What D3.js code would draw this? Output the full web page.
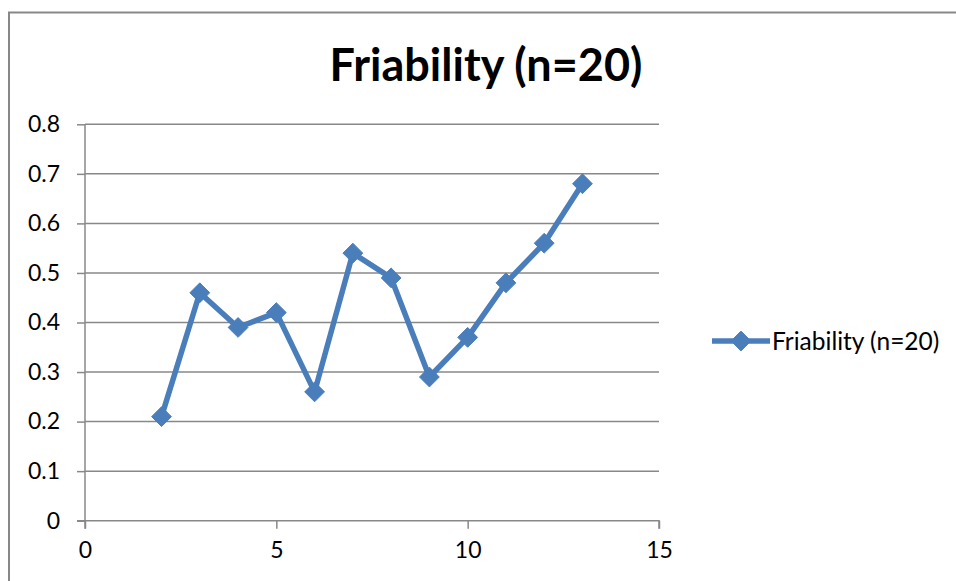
<!DOCTYPE html>
<html>
<head>
<meta charset="utf-8">
<script src="https://cdn.jsdelivr.net/npm/d3@7"></script>
<style>
  html, body { margin: 0; padding: 0; background: #fff; }
  svg { display: block; font-family: Lato, "Open Sans", sans-serif; }
</style>
</head>
<body>
<svg id="chart" width="956" height="581"></svg>
<script>
// Friability measurements per batch
const seriesName = "Friability (n=20)";
const batchNumbers = [2, 3, 4, 5, 6, 7, 8, 9, 10, 11, 12, 13];
const friabilityValues = [0.21, 0.46, 0.39, 0.42, 0.26, 0.54, 0.49, 0.29, 0.37, 0.48, 0.56, 0.68];
const xTicks = [0, 5, 10, 15];
const yTicks = [0, 0.1, 0.2, 0.3, 0.4, 0.5, 0.6, 0.7, 0.8];

const svg = d3.select("#chart");
const W = 956, H = 581;
const plot = { left: 85, right: 659, top: 124.3, bottom: 520.7 };
const blue = "#4a7ebb";
const gray = "#888888";
const font = "Lato, 'Open Sans', sans-serif";

// Outer frame (top and left edges visible)
svg.append("path")
  .attr("d", `M9,${H} L9,12.5 L${W},12.5`)
  .attr("fill", "none")
  .attr("stroke", gray)
  .attr("stroke-width", 2);

const x = d3.scaleLinear().domain([0, 15]).range([plot.left, plot.right]);
const y = d3.scaleLinear().domain([0, 0.8]).range([plot.bottom, plot.top]);

// Horizontal gridlines
svg.append("g")
  .selectAll("line")
  .data(yTicks.filter(d => d > 0))
  .join("line")
  .attr("x1", plot.left).attr("x2", plot.right)
  .attr("y1", d => y(d)).attr("y2", d => y(d))
  .attr("stroke", gray).attr("stroke-width", 1.5);

// Y axis
const yAxis = svg.append("g")
  .attr("transform", `translate(${plot.left},0)`)
  .call(d3.axisLeft(y).tickValues(yTicks).tickSize(8).tickPadding(17)
    .tickFormat(d => d === 0 ? "0" : d3.format(".1f")(d)));
yAxis.select(".domain").attr("stroke", gray).attr("stroke-width", 1.5)
  .attr("d", `M0,${plot.top}V${plot.bottom + 8}`);
yAxis.selectAll(".tick line").attr("stroke", gray).attr("stroke-width", 1.5);
yAxis.selectAll(".tick text").attr("fill", "#000").style("font-size", "23px")
  .style("font-family", font);

// X axis
const xAxis = svg.append("g")
  .attr("transform", `translate(0,${plot.bottom})`)
  .call(d3.axisBottom(x).tickValues(xTicks).tickSize(8).tickPadding(13));
xAxis.select(".domain").attr("stroke", gray).attr("stroke-width", 1.5)
  .attr("d", `M${plot.left - 8},0H${plot.right}V8`);
xAxis.selectAll(".tick line").attr("stroke", gray).attr("stroke-width", 1.5);
xAxis.selectAll(".tick text").attr("fill", "#000").style("font-size", "23px")
  .style("font-family", font);

// Series line
const data = batchNumbers.map((b, i) => ({ x: b, y: friabilityValues[i] }));
svg.append("path")
  .datum(data)
  .attr("fill", "none")
  .attr("stroke", blue)
  .attr("stroke-width", 5.5)
  .attr("stroke-linejoin", "round")
  .attr("d", d3.line().x(d => x(d.x)).y(d => y(d.y)));

// Diamond markers
const diamond = d3.symbol().type(d3.symbolDiamond2).size(250);
svg.append("g")
  .selectAll("path")
  .data(data)
  .join("path")
  .attr("transform", d => `translate(${x(d.x)},${y(d.y)})`)
  .attr("d", diamond)
  .attr("fill", blue)
  .attr("stroke", blue)
  .attr("stroke-width", 1);

// Title
svg.append("text")
  .attr("x", 486).attr("y", 81)
  .attr("text-anchor", "middle")
  .style("font-size", "45px")
  .style("font-weight", "bold")
  .attr("fill", "#000")
  .text(seriesName);

// Legend
const lg = svg.append("g").attr("transform", "translate(712,341)");
lg.append("line").attr("x1", 0).attr("x2", 58).attr("y1", 0).attr("y2", 0)
  .attr("stroke", blue).attr("stroke-width", 5.5);
lg.append("path").attr("transform", "translate(29,0)").attr("d", diamond)
  .attr("fill", blue).attr("stroke", blue);
lg.append("text").attr("x", 60).attr("y", 8.5)
  .style("font-size", "24.5px").attr("fill", "#000")
  .text(seriesName);
</script>
</body>
</html>
